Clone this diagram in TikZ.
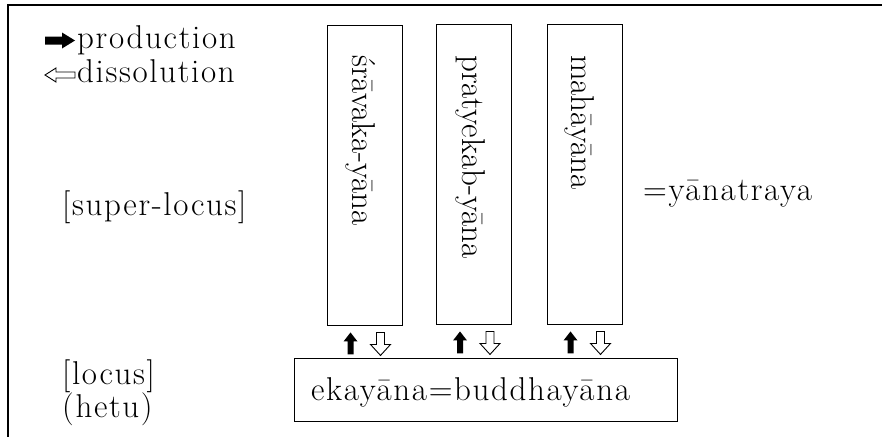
\documentclass[tikz,border=0pt]{standalone}
\usepackage{fontspec}
\newfontfamily\spacedfont{lmroman17-regular}[Extension=.otf, LetterSpace=5]
\usetikzlibrary{calc}
\tikzset{
 txtfont/.style={font=\spacedfont\fontsize{33}{38}\selectfont},
 lbl/.style={txtfont, inner sep=0pt, anchor=base west},
 yana/.style={draw, line width=0.9pt, minimum width=75pt, minimum height=300pt, inner sep=0pt},
 vtxt/.style={font=\fontsize{33}{38}\selectfont, inner sep=0pt, rotate=-90, anchor=west},
 basebox/.style={draw, line width=0.9pt, minimum width=383pt, minimum height=63pt, inner sep=0pt},
 frameline/.style={line width=1.4pt},
 pics/blkup/.style={code={\fill (-3,22) -- (-3,9) -- (-7,9) -- (0,0) -- (7,9) -- (3,9) -- (3,22) -- cycle;}},
 pics/whtdown/.style={code={\draw[line width=0.9pt, fill=white, line join=miter] (-4,0) -- (-4,12) -- (-10,12) -- (0,23) -- (10,12) -- (4,12) -- (4,0) -- cycle;}},
 pics/blkright/.style={code={\fill (0,-4) -- (17,-4) -- (17,-8) -- (30,0) -- (17,8) -- (17,4) -- (0,4) -- cycle;}},
 pics/whtleft/.style={code={\draw[line width=0.9pt, fill=white] (0,0) -- (11,-7) -- (11,-3) -- (30,-3) -- (30,3) -- (11,3) -- (11,7) -- cycle;}},
}
\begin{document}
\begin{tikzpicture}[x=1pt,y=-1pt]
\useasboundingbox (0,0) rectangle (882,439);
\fill[white] (0,0) rectangle (882,439);
% frame
\draw[frameline] (882,5) -- (8,5) -- (8,437);
% legend
\pic at (45,40.5) {blkright};
\node[lbl] (prod) at (77,48) {production};
\pic at (45,75) {whtleft};
\node[lbl] (diss) at (77,82) {dissolution};
% left labels
\node[lbl] (super) at (62,215) {[super-locus]};
\node[lbl] (locus) at (62,384) {[locus]};
\node[lbl] (hetu) at (62,417) {(hetu)};
% yana boxes
\node[yana] (b1) at (364.5,175) {};
\node[yana] (b2) at (474,174) {};
\node[yana] (b3) at (584.5,174) {};
\node[vtxt] (t1) at (361,55) {śrāvaka-yāna};
\node[vtxt] (t2) at (471,55) {pratyekab-yāna};
\node[vtxt] (t3) at (580,55) {mahāyāna};
\node[lbl] (traya) at (643,200) {=yānatraya};
% base box
\node[basebox] (eka) at (485.5,389.5) {};
\node[lbl] (ekat) at (311,400) {ekayāna=buddhayāna};
% arrows between boxes
\foreach \b in {b1,b2,b3}{
  \pic at ($(\b.south)+(-14,7)$) {blkup};
  \pic at ($(\b.south)+(16,7)$) {whtdown};
}
\end{tikzpicture}
\end{document}
